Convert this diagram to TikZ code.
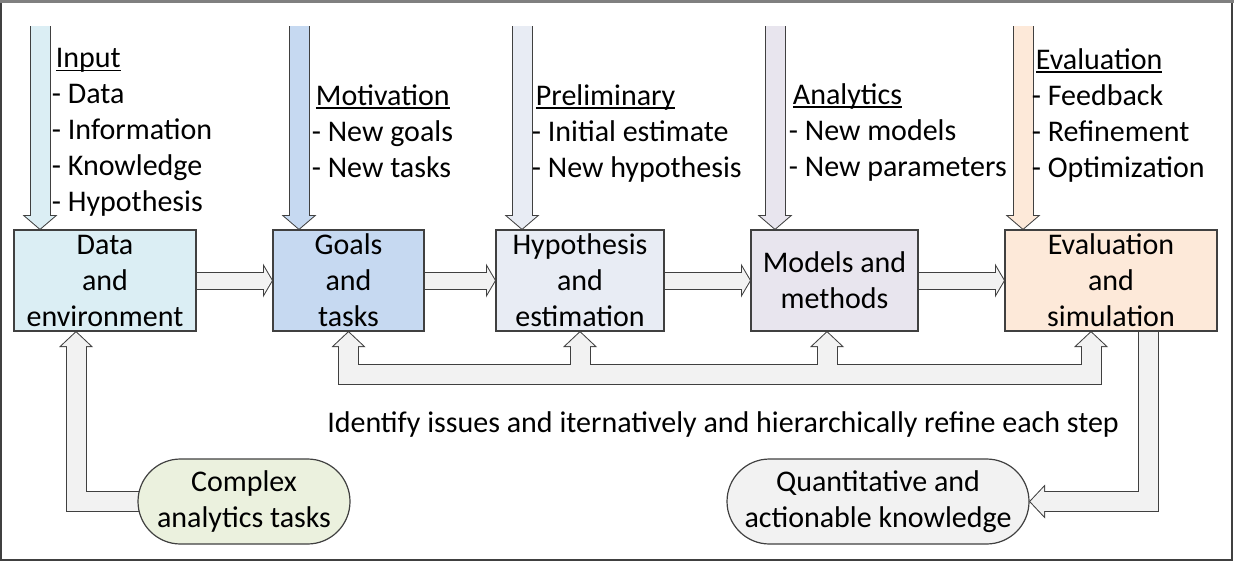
\documentclass[tikz,border=0pt]{standalone}
\usepackage{fontspec}
\setmainfont{Carlito}
\usetikzlibrary{positioning,calc,arrows.meta,shapes.misc}

\definecolor{datafill}{HTML}{DBEEF4}
\definecolor{goalfill}{HTML}{C6D9F1}
\definecolor{hypofill}{HTML}{E8ECF4}
\definecolor{modfill}{HTML}{E8E5EE}
\definecolor{evalfill}{HTML}{FDE9D9}
\definecolor{arrowfill}{HTML}{F2F2F2}
\definecolor{taskfill}{HTML}{EBF1DE}
\definecolor{knowfill}{HTML}{F2F2F2}
\definecolor{linegray}{HTML}{404040}

\pgfdeclarelayer{edge}
\pgfdeclarelayer{inside}
\pgfsetlayers{edge,inside,main}

\newcommand{\diagfont}{\fontsize{15pt}{18pt}\selectfont}
\newcommand{\ulhead}[1]{\setbox0\hbox{#1}\rlap{\rule[-1.75pt]{\wd0}{0.75pt}}\box0}
% block arrow: border pass and fill pass on their own layers
\newcommand{\fatarrow}[3]{%
  \begin{pgfonlayer}{edge}\draw[#1 edge] #3;\end{pgfonlayer}
  \begin{pgfonlayer}{inside}\draw[#1 inside, draw=#2] #3;\end{pgfonlayer}}

\tikzset{
  stepbox/.style={draw=linegray, line width=0.6pt, inner sep=0pt, outer sep=0pt,
    minimum height=50.5pt, align=center, font=\diagfont},
  endcap/.style={rounded rectangle, draw=linegray, line width=0.6pt, inner sep=0pt,
    outer sep=0pt, minimum height=42.5pt, align=center, font=\diagfont},
  notes/.style={anchor=north west, inner sep=0pt, align=left, font=\diagfont},
  remark/.style={inner sep=0pt, font=\diagfont},
  down edge/.style={draw=linegray, line width=10.5pt,
    arrows={-Triangle[length=7.5pt, width=17.5pt, line width=0pt]}},
  down inside/.style={line width=9.5pt, shorten >=0.66pt,
    arrows={-Triangle[length=6.34pt, width=14.8pt, line width=0pt]}},
  side edge/.style={draw=linegray, line width=9pt,
    arrows={-Triangle[length=5pt, width=17pt, line width=0pt]}},
  side inside/.style={line width=8pt, shorten >=0.58pt,
    arrows={-Triangle[length=3.92pt, width=13.33pt, line width=0pt]}},
  up edge/.style={draw=linegray, line width=10.5pt,
    arrows={-Triangle[length=8pt, width=17pt, line width=0pt]}},
  up inside/.style={line width=9.5pt, shorten >=0.69pt,
    arrows={-Triangle[length=6.81pt, width=14.48pt, line width=0pt]}},
  both edge/.style={draw=linegray, line width=10.5pt,
    arrows={Triangle[length=8pt, width=17pt, line width=0pt]-Triangle[length=8pt, width=17pt, line width=0pt]}},
  both inside/.style={line width=9.5pt, shorten >=0.69pt, shorten <=0.69pt,
    arrows={Triangle[length=6.81pt, width=14.48pt, line width=0pt]-Triangle[length=6.81pt, width=14.48pt, line width=0pt]}},
}

\begin{document}
\begin{tikzpicture}[x=0.5pt, y=-0.5pt]
  \useasboundingbox (0,0) rectangle (1234,562);
  \draw[linegray, line width=0.6pt] (1,1) rectangle (1232,560);
  \draw[gray, line width=1.4pt] (0,1.5) -- (1234,1.5);

  % the five steps
  \node[stepbox, fill=datafill, minimum width=91pt] (data) at (105,280.5) {Data\\and\\environment};
  \node[stepbox, fill=goalfill, minimum width=75.5pt, right=38.5pt of data] (goals) {Goals\\and\\tasks};
  \node[stepbox, fill=hypofill, minimum width=84pt, right=36pt of goals] (hypo) {Hypothesis\\and\\estimation};
  \node[stepbox, fill=modfill, minimum width=83.5pt, right=43.5pt of hypo] (models) {Models and\\methods};
  \node[stepbox, fill=evalfill, minimum width=106pt, right=43.5pt of models] (evalbox) {Evaluation\\and\\simulation};

  % start and end
  \node[endcap, fill=taskfill, minimum width=106pt] (complex) at (244,501.5) {Complex\\analytics tasks};
  \node[endcap, fill=knowfill, minimum width=151pt] (quant) at (878,501.5) {Quantitative and\\actionable knowledge};
  \node[remark] (refine) at (723,424) {Identify issues and iternatively and hierarchically refine each step};

  % inputs of each step
  \node[notes] (innote) at (51.5,48) {\hspace*{2pt}\ulhead{Input}\\- Data\\- Information\\- Knowledge\\- Hypothesis};
  \node[notes] (goalnote) at (311.5,84) {\hspace*{2pt}\ulhead{Motivation}\\- New goals\\- New tasks};
  \node[notes] (hyponote) at (531.5,84) {\hspace*{2pt}\ulhead{Preliminary}\\- Initial estimate\\- New hypothesis};
  \node[notes] (modnote) at (788.5,83) {\hspace*{2pt}\ulhead{Analytics}\\- New models\\- New parameters};
  \node[notes] (evalnote) at (1031.5,48) {\hspace*{2pt}\ulhead{Evaluation}\\- Feedback\\- Refinement\\- Optimization};

  \coordinate (inTop) at (40,26);
  \coordinate (goalTop) at (299,26);
  \coordinate (hypoTop) at (522,26);
  \coordinate (modTop) at (775,26);
  \coordinate (evalTop) at (1023,26);
  \coordinate (fbRight) at ($(evalbox.south)+(-20,0)$);
  \coordinate (modIn) at ($(models.south)+(-7.5,0)$);
  \coordinate (dataIn) at ($(data.south)+(-29,0)$);
  \coordinate (evalOut) at ($(evalbox.south)+(37,0)$);

  \fatarrow{down}{datafill}{(inTop) -- (inTop |- data.north)}
  \fatarrow{down}{goalfill}{(goalTop) -- (goalTop |- goals.north)}
  \fatarrow{down}{hypofill}{(hypoTop) -- (hypoTop |- hypo.north)}
  \fatarrow{down}{modfill}{(modTop) -- (modTop |- models.north)}
  \fatarrow{down}{evalfill}{(evalTop) -- (evalTop |- evalbox.north)}

  \fatarrow{side}{arrowfill}{(data) -- (goals)}
  \fatarrow{side}{arrowfill}{(goals) -- (hypo)}
  \fatarrow{side}{arrowfill}{(hypo) -- (models)}
  \fatarrow{side}{arrowfill}{(models) -- (evalbox)}

  % refine loop
  \fatarrow{both}{arrowfill}{(goals.south) -- ++(0,43) -| (fbRight)}
  \fatarrow{up}{arrowfill}{($(hypo.south)+(0,43)$) -- (hypo.south)}
  \fatarrow{up}{arrowfill}{($(modIn)+(0,43)$) -- (modIn)}

  \fatarrow{up}{arrowfill}{(complex.center) -| (dataIn)}
  \fatarrow{up}{arrowfill}{(evalOut) |- (quant.east)}
\end{tikzpicture}
\end{document}
